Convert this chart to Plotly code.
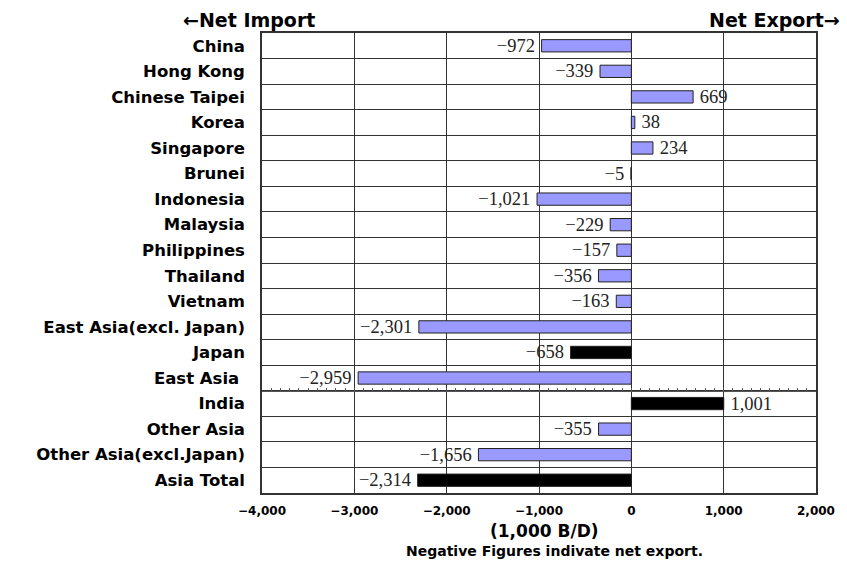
import plotly.graph_objects as go

categories = ["China", "Hong Kong", "Chinese Taipei", "Korea", "Singapore", "Brunei",
              "Indonesia", "Malaysia", "Philippines", "Thailand", "Vietnam",
              "East Asia(excl. Japan)", "Japan", "East Asia ", "India", "Other Asia",
              "Other Asia(excl.Japan)", "Asia Total"]
values = [-972, -339, 669, 38, 234, -5, -1021, -229, -157, -356, -163,
          -2301, -658, -2959, 1001, -355, -1656, -2314]
black_rows = ["Japan", "India", "Asia Total"]
x_ticks = [-4000, -3000, -2000, -1000, 0, 1000, 2000]

BLUE = "#9999FF"
GOTHIC = "DejaVu Sans"
colors = ["#000000" if c in black_rows else BLUE for c in categories]


def fmt(v):
    s = f"{v:,}".replace("-", "\u2212")
    return s + "\u2009" if v < 0 else "\u2009" + s


texts = [fmt(v) for v in values]

fig = go.Figure()
fig.add_trace(go.Bar(
    y=categories, x=values, orientation="h",
    marker=dict(color=colors, line=dict(color="#222222", width=1)),
    width=0.48,
    text=texts, textposition="outside", cliponaxis=False, constraintext="none",
    textfont=dict(family="Liberation Serif", size=18.5, color="#222222"),
    hoverinfo="skip",
))

# separator axis between East Asia and India (with minor ticks)
fig.add_trace(go.Scatter(x=[None], y=[None], xaxis="x2", yaxis="y", showlegend=False))

fig.update_layout(
    width=847, height=563,
    margin=dict(l=262, r=27, t=33, b=70),
    plot_bgcolor="white", paper_bgcolor="white",
    showlegend=False,
    bargap=0.5,
    font=dict(family=GOTHIC, color="black"),
    xaxis=dict(
        range=[-4000, 2000], tickvals=x_ticks,
        ticktext=[f"{t:,}".replace("-", "\u2212") for t in x_ticks],
        showgrid=True, gridcolor="#333333", gridwidth=1,
        zeroline=True, zerolinecolor="#333333", zerolinewidth=1,
        showline=True, linecolor="#333333", linewidth=1.5, mirror=True,
        ticks="", ticklabelstandoff=6,
        tickfont=dict(family=GOTHIC, size=12, weight="bold"),
    ),
    xaxis2=dict(
        range=[-4000, 2000], overlaying="x", anchor="free", position=4/18,
        showgrid=False, zeroline=False, showticklabels=False,
        showline=True, linecolor="#555555", linewidth=1,
        ticks="inside", tickvals=x_ticks, ticklen=3, tickcolor="#555555",
        minor=dict(ticks="inside", dtick=100, ticklen=3, tickcolor="#555555"),
    ),
    yaxis=dict(
        autorange="reversed", tickson="boundaries",
        showgrid=True, gridcolor="#333333", gridwidth=1,
        showline=True, linecolor="#333333", linewidth=1.5, mirror=True,
        ticks="", ticklabelstandoff=12,
        tickfont=dict(family=GOTHIC, size=16.5, weight="bold"),
    ),
    annotations=[
        dict(text="\u2190Net Import", x=180, y=20, showarrow=False,
             font=dict(size=19, weight="bold")),
        dict(text="Net Export\u2192", x=846, y=20, showarrow=False,
             font=dict(size=19, weight="bold")),
        dict(text="(1,000 B/D)", x=547, y=531, showarrow=False,
             font=dict(size=17, weight="bold")),
        dict(text="Negative Figures indivate net export.", x=557, y=551, showarrow=False,
             font=dict(size=14, weight="bold")),
    ],
)

# convert pixel positions of annotations to paper coords
pl, pr, pt, pb = 262, 820, 33, 493
new_ann = []
for i, a in enumerate(fig.layout.annotations):
    a = a.to_plotly_json()
    px, py = a["x"], a["y"]
    a["xref"] = "paper"; a["yref"] = "paper"
    a["x"] = (px - pl) / (pr - pl)
    a["y"] = (pb - py) / (pb - pt)
    if i == 0:
        a["xanchor"] = "left"
    elif i == 1:
        a["xanchor"] = "right"
    else:
        a["xanchor"] = "center"
    a["yanchor"] = "middle"
    new_ann.append(a)
fig.layout.annotations = new_ann

fig.write_html("out.html")
